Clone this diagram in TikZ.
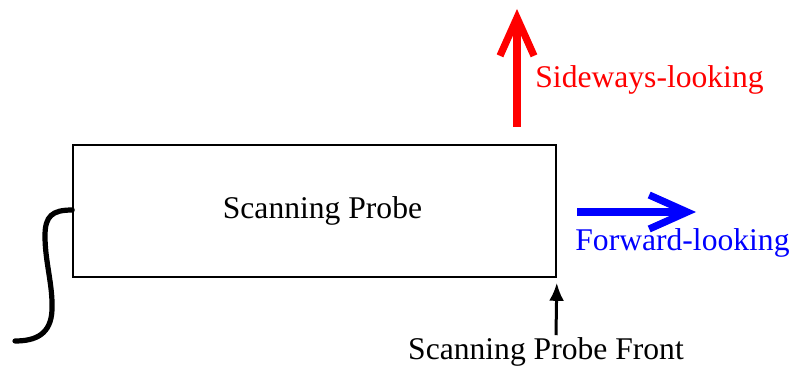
\documentclass[tikz,border=0pt]{standalone}
\usepackage{fontspec}
\setmainfont{Liberation Serif}
\usetikzlibrary{arrows.meta}
\begin{document}
\begin{tikzpicture}[
		x=0.5pt, y=-0.5pt,
		every node/.style = {font=\fontsize{15.8}{19}\selectfont, inner sep=1pt},
		probebox/.style = {draw, line width=0.8pt, minimum width=241.5pt, minimum height=66pt, inner sep=0pt},
		cable/.style = {line width=2.6pt, line cap=round},
		bigarrow/.style = {line width=3.6pt, -{Straight Barb[length=19pt, width=17pt, line join=miter]}},
	]
	\path[use as bounding box] (0,0) rectangle (792,369);
	% probe body and its cable
	\node[probebox] (probe) at (314.5,211) {\hspace{8pt}Scanning Probe};
	\coordinate (plug) at (15,341);
	\draw[cable] ([yshift=0.5pt]probe.west) .. controls (52,210) and (45,216) .. (45,236)
		.. controls (45,262) and (53,285) .. (52,310) .. controls (51,334) and (36,341) .. (plug);
	% viewing directions
	\coordinate (side base) at (517,127);
	\coordinate (side tip) at (517,9);
	\draw[bigarrow, red] (side base) -- (side tip);
	\node[anchor=west, text=red] (side) at (533,80) {Sideways-looking};
	\coordinate (fwd base) at (577,212);
	\coordinate (fwd tip) at (696,212);
	\draw[bigarrow, blue] (fwd base) -- (fwd tip);
	\node[anchor=west, text=blue] (fwd) at (573,243) {Forward-looking};
	% front marker
	\node (front) at (546,352) {Scanning Probe Front};
	\draw[line width=1.5pt, -{Latex[length=9pt, width=7.5pt]}] ([xshift=5pt]front.north) -- ([yshift=-2.5pt]probe.south east);
\end{tikzpicture}
\end{document}
